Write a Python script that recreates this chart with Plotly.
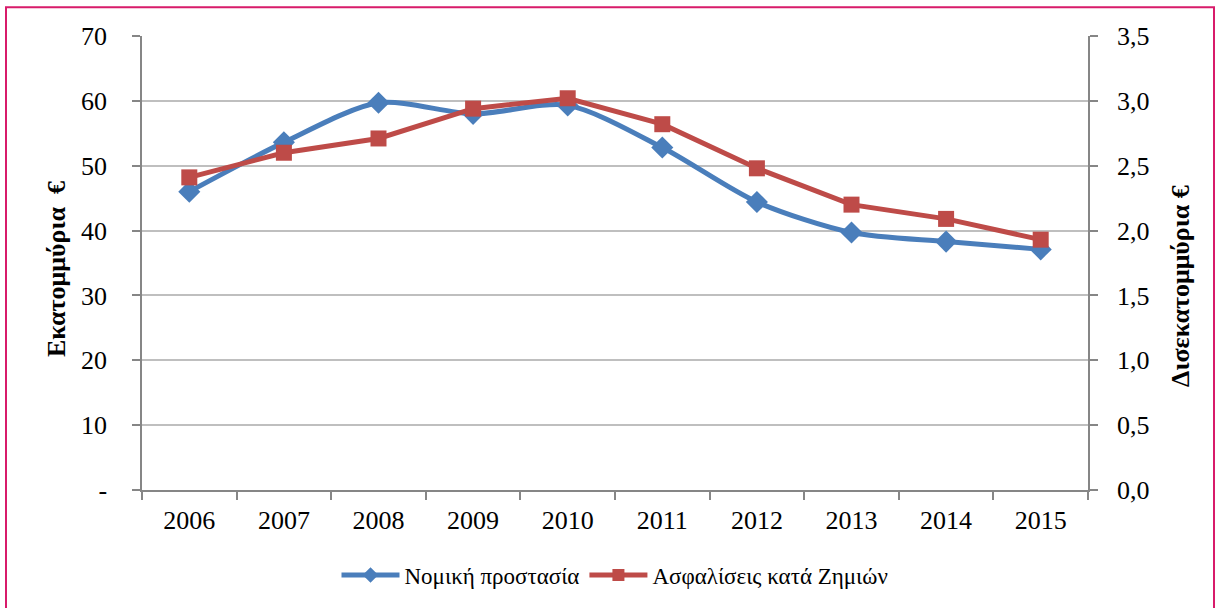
import plotly.graph_objects as go

years = ["2006", "2007", "2008", "2009", "2010", "2011", "2012", "2013", "2014", "2015"]
legal_protection = [46.0, 53.6, 59.7, 58.0, 59.3, 52.8, 44.4, 39.7, 38.3, 37.1]
damage_insurance = [2.41, 2.60, 2.71, 2.94, 3.02, 2.82, 2.48, 2.20, 2.09, 1.93]

left_ticks = [0, 10, 20, 30, 40, 50, 60, 70]
left_text = ["-", "10", "20", "30", "40", "50", "60", "70"]
right_ticks = [0, 0.5, 1.0, 1.5, 2.0, 2.5, 3.0, 3.5]
right_text = ["0,0", "0,5", "1,0", "1,5", "2,0", "2,5", "3,0", "3,5"]

FONT = "Liberation Serif, Times New Roman, DejaVu Serif, serif"
BLUE = "#4A7EBB"
RED = "#BE4B48"

fig = go.Figure()
fig.add_trace(go.Scatter(
    x=years, y=legal_protection, name="Νομική προστασία",
    mode="lines+markers", line=dict(color=BLUE, width=5, shape="spline", smoothing=0.8),
    marker=dict(symbol="diamond", size=17, color=BLUE), yaxis="y"))
fig.add_trace(go.Scatter(
    x=years, y=damage_insurance, name="Ασφαλίσεις κατά Ζημιών",
    mode="lines+markers", line=dict(color=RED, width=5),
    marker=dict(symbol="square", size=16, color=RED), yaxis="y2"))

tick_font = dict(size=26, family=FONT, color="black")

fig.update_layout(
    width=1216, height=608,
    margin=dict(l=142, r=128, t=36, b=116),
    paper_bgcolor="white", plot_bgcolor="white",
    font=dict(family=FONT, size=22, color="black"),
    showlegend=True,
    legend=dict(orientation="h", x=0.5, xanchor="center", y=-0.14, yanchor="top",
                font=dict(size=23, family=FONT, color="black"), itemwidth=58,
                itemsizing="constant", traceorder="normal"),
    xaxis=dict(type="category", range=[-0.5, 9.5], showline=True,
               linecolor="#868686", linewidth=1.5,
               ticks="outside", ticklen=8, tickcolor="#868686", tickwidth=1.5,
               tickson="boundaries", showgrid=False, tickfont=tick_font,
               ticklabelstandoff=6),
    yaxis=dict(range=[0, 70], tickvals=left_ticks, ticktext=left_text,
               showline=True, linecolor="#868686", linewidth=1.5,
               ticks="outside", ticklen=8, tickcolor="#868686", tickwidth=1.5,
               showgrid=True, gridcolor="#BFBFBF", gridwidth=1.5, zeroline=False,
               tickfont=tick_font, ticklabelstandoff=20),
    yaxis2=dict(range=[0, 3.5], tickvals=right_ticks, ticktext=right_text,
                overlaying="y", side="right",
                showline=True, linecolor="#868686", linewidth=1.5,
                ticks="outside", ticklen=8, tickcolor="#868686", tickwidth=1.5,
                showgrid=False, zeroline=False, tickfont=tick_font,
                ticklabelstandoff=14),
    annotations=[
        dict(text="<b>Εκατομμύρια  €</b>", xref="paper", yref="paper",
             x=(57 - 142) / 946, y=(492 - 270) / 456, textangle=-90,
             showarrow=False, font=dict(size=26, family=FONT, color="black"),
             xanchor="center", yanchor="middle"),
        dict(text="<b>Δισεκατομμύρια €</b>", xref="paper", yref="paper",
             x=(1181 - 142) / 946, y=(492 - 287) / 456, textangle=-90,
             showarrow=False, font=dict(size=26, family=FONT, color="black"),
             xanchor="center", yanchor="middle"),
    ],
    shapes=[dict(type="rect", xref="paper", yref="paper",
                 x0=(6 - 142) / 946, x1=(1214 - 142) / 946,
                 y0=(492 - 640) / 456, y1=(492 - 7) / 456,
                 line=dict(color="#D81B6A", width=2), fillcolor="rgba(0,0,0,0)",
                 layer="below")],
)

fig.write_html("out.html", config={"displayModeBar": False},
               post_script="document.body.style.margin='0';document.body.style.overflow='hidden';")
